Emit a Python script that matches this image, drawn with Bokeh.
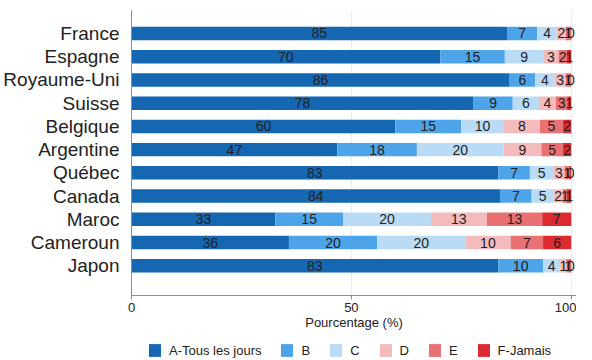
from bokeh.plotting import figure
from bokeh.models import ColumnDataSource, FixedTicker, Range1d, Legend, LegendItem
from bokeh.layouts import column
from bokeh.embed import file_html
from bokeh.resources import INLINE
from bokeh.core.properties import value

countries = ["France", "Espagne", "Royaume-Uni", "Suisse", "Belgique", "Argentine",
             "Québec", "Canada", "Maroc", "Cameroun", "Japon"]
cat_names = ["A-Tous les jours", "B", "C", "D", "E", "F-Jamais"]
a = [85.4, 70.2, 86.0, 77.8, 60.0, 46.8, 83.4, 83.8, 32.7, 35.8, 83.4]
b = [6.9, 14.7, 5.8, 8.9, 15.0, 18.1, 7.2, 7.2, 15.4, 20.1, 10.2]
c = [4.4, 8.8, 4.4, 6.0, 9.7, 19.7, 5.3, 5.0, 20.0, 20.0, 3.9]
d = [2.1, 3.4, 2.6, 3.8, 8.2, 8.6, 2.6, 2.1, 12.7, 10.3, 1.4]
e = [1.0, 1.9, 1.0, 2.6, 5.2, 4.9, 1.2, 0.9, 12.6, 7.4, 0.9]
f = [0.2, 1.0, 0.2, 0.9, 1.9, 1.9, 0.3, 1.0, 6.6, 6.4, 0.2]
x_ticks = [0, 50, 100]
x_title = "Pourcentage (%)"

colors = ["#1667b2", "#4ea4e8", "#badbf6", "#f3bbbc", "#e97173", "#dc2b30"]
FONT = "Liberation Sans"

series = [a, b, c, d, e, f]
keys = ["A", "B", "C", "D", "E", "F"]
n = len(countries)
ypos = [n - 1 - i for i in range(n)]

data = {"y": ypos}
for k, s in zip(keys, series):
    data[k] = s
source = ColumnDataSource(data)

# label positions from the data
lx, ly, lt = [], [], []
for i in range(n):
    left = 0.0
    for s in series:
        v = s[i]
        lx.append(left + v / 2.0)
        ly.append(ypos[i])
        lt.append(f"{v:.0f}")
        left += v
lsrc = ColumnDataSource(dict(x=lx, y=ly, t=lt))

p = figure(width=576, height=336, output_backend="svg", toolbar_location=None,
           x_range=Range1d(0, 101.2), y_range=Range1d(-1.28, 10.99))
p.min_border_left = 125
p.min_border_right = 0
p.min_border_top = 10
p.min_border_bottom = 41
p.outline_line_color = None
p.background_fill_color = "white"

p.hbar_stack(keys, y="y", height=0.58, color=colors, line_color=None, source=source)

p.text(x="x", y="y", text="t", source=lsrc, text_align="center", text_baseline="middle",
       text_font=value(FONT), text_font_size="14px", text_color="#222222")

# axes
p.yaxis.ticker = FixedTicker(ticks=ypos)
p.yaxis.major_label_overrides = {ypos[i]: countries[i] for i in range(n)}
p.yaxis.major_tick_line_color = None
p.yaxis.minor_tick_line_color = None
p.yaxis.axis_line_color = "#8c8c8c"
p.yaxis.major_label_text_font = FONT
p.yaxis.major_label_text_font_size = "19px"
p.yaxis.major_label_text_color = "#222222"
p.yaxis.major_label_standoff = 6

p.xaxis.ticker = FixedTicker(ticks=x_ticks)
p.xaxis.major_tick_out = 4
p.xaxis.major_tick_in = 0
p.xaxis.minor_tick_line_color = None
p.xaxis.major_tick_line_color = "#8c8c8c"
p.xaxis.axis_line_color = "#8c8c8c"
p.xaxis.major_label_text_font = FONT
p.xaxis.major_label_text_font_size = "13px"
p.xaxis.major_label_text_color = "#222222"
p.xaxis.major_label_standoff = 3
p.xaxis.axis_label = x_title
p.xaxis.axis_label_text_font = FONT
p.xaxis.axis_label_text_font_size = "13px"
p.xaxis.axis_label_text_font_style = "normal"
p.xaxis.axis_label_text_color = "#222222"
p.xaxis.axis_label_standoff = 0

p.ygrid.grid_line_color = None
p.xgrid.ticker = FixedTicker(ticks=[50, 100])
p.xgrid.grid_line_color = "#e4edf1"

# legend strip below the chart (its frame lines up with the chart's frame)
lg = figure(width=576, height=22, output_backend="svg", toolbar_location=None,
            x_range=Range1d(0, 1), y_range=Range1d(0, 1),
            x_axis_location=None, y_axis_location=None)
lg.min_border_left = 0
lg.min_border_right = 0
lg.min_border_top = 0
lg.min_border_bottom = 0
lg.outline_line_color = None
lg.xgrid.grid_line_color = None
lg.ygrid.grid_line_color = None
items = []
for nm, col in zip(cat_names, colors):
    r = lg.hbar(y=[-10], left=[0], right=[1], height=0.5, color=col, line_color=None)
    items.append(LegendItem(label=nm, renderers=[r]))
legend = Legend(items=items, orientation="horizontal", location=(16, 0))
legend.border_line_color = None
legend.background_fill_alpha = 0
legend.padding = 0
legend.margin = 0
legend.spacing = 18
legend.glyph_width = 15
legend.glyph_height = 16
legend.label_height = 16
legend.label_width = 0
legend.label_standoff = 7
legend.label_text_font = FONT
legend.label_text_font_size = "13px"
legend.label_text_color = "#222222"
lg.add_layout(legend, "center")

layout = column(p, lg, spacing=0)
open("out.html", "w").write(file_html(layout, INLINE))
